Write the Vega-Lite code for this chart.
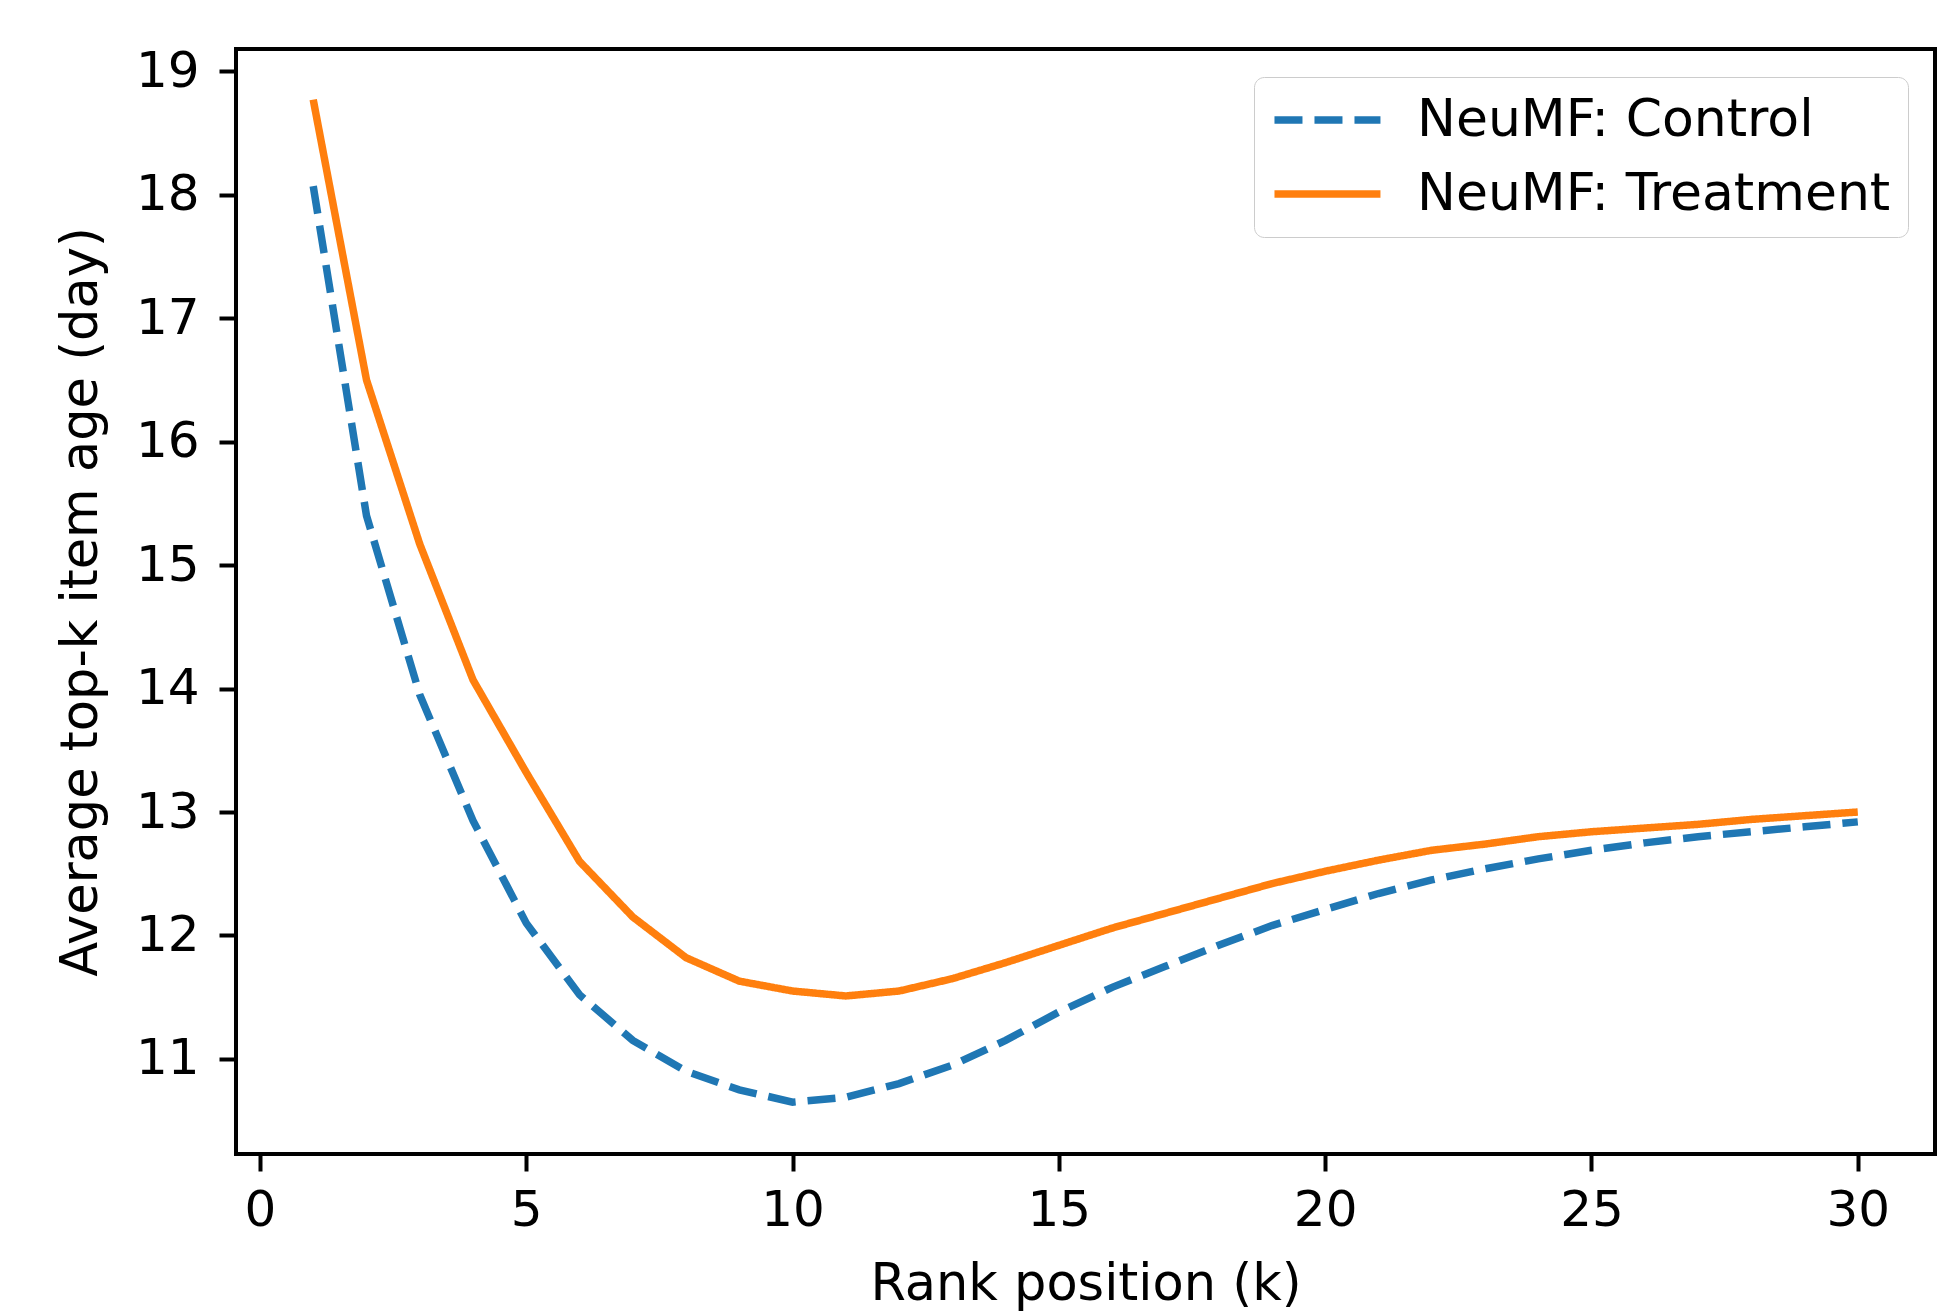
{
  "$schema": "https://vega.github.io/schema/vega-lite/v6.json",
  "autosize": {"type": "none"},
  "padding": {"left": 236, "top": 49, "right": 4, "bottom": 159},
  "width": 1699,
  "height": 1105,
  "background": "white",
  "config": {
    "font": "DejaVu Sans",
    "view": {"stroke": "black", "strokeWidth": 4},
    "axis": {
      "domain": false,
      "grid": false,
      "tickColor": "black",
      "tickWidth": 4,
      "tickSize": 17,
      "labelFont": "DejaVu Sans",
      "labelFontSize": 50,
      "labelColor": "black",
      "titleFont": "DejaVu Sans",
      "titleFontSize": 51,
      "titleFontWeight": "normal",
      "titleColor": "black"
    },
    "legend": {
      "labelFont": "DejaVu Sans",
      "labelFontSize": 52,
      "labelColor": "black",
      "labelLimit": 0
    }
  },
  "data": {
    "values": [
      {"k": 1, "series": "NeuMF: Control", "v": 18.07},
      {"k": 2, "series": "NeuMF: Control", "v": 15.4},
      {"k": 3, "series": "NeuMF: Control", "v": 13.95},
      {"k": 4, "series": "NeuMF: Control", "v": 12.93},
      {"k": 5, "series": "NeuMF: Control", "v": 12.1},
      {"k": 6, "series": "NeuMF: Control", "v": 11.52},
      {"k": 7, "series": "NeuMF: Control", "v": 11.15},
      {"k": 8, "series": "NeuMF: Control", "v": 10.9},
      {"k": 9, "series": "NeuMF: Control", "v": 10.75},
      {"k": 10, "series": "NeuMF: Control", "v": 10.65},
      {"k": 11, "series": "NeuMF: Control", "v": 10.69},
      {"k": 12, "series": "NeuMF: Control", "v": 10.8},
      {"k": 13, "series": "NeuMF: Control", "v": 10.95},
      {"k": 14, "series": "NeuMF: Control", "v": 11.15},
      {"k": 15, "series": "NeuMF: Control", "v": 11.38},
      {"k": 16, "series": "NeuMF: Control", "v": 11.58},
      {"k": 17, "series": "NeuMF: Control", "v": 11.75},
      {"k": 18, "series": "NeuMF: Control", "v": 11.92},
      {"k": 19, "series": "NeuMF: Control", "v": 12.08},
      {"k": 20, "series": "NeuMF: Control", "v": 12.21},
      {"k": 21, "series": "NeuMF: Control", "v": 12.34},
      {"k": 22, "series": "NeuMF: Control", "v": 12.45},
      {"k": 23, "series": "NeuMF: Control", "v": 12.54},
      {"k": 24, "series": "NeuMF: Control", "v": 12.62},
      {"k": 25, "series": "NeuMF: Control", "v": 12.69},
      {"k": 26, "series": "NeuMF: Control", "v": 12.75},
      {"k": 27, "series": "NeuMF: Control", "v": 12.8},
      {"k": 28, "series": "NeuMF: Control", "v": 12.84},
      {"k": 29, "series": "NeuMF: Control", "v": 12.88},
      {"k": 30, "series": "NeuMF: Control", "v": 12.92},
      {"k": 1, "series": "NeuMF: Treatment", "v": 18.77},
      {"k": 2, "series": "NeuMF: Treatment", "v": 16.5},
      {"k": 3, "series": "NeuMF: Treatment", "v": 15.17},
      {"k": 4, "series": "NeuMF: Treatment", "v": 14.07},
      {"k": 5, "series": "NeuMF: Treatment", "v": 13.32},
      {"k": 6, "series": "NeuMF: Treatment", "v": 12.6},
      {"k": 7, "series": "NeuMF: Treatment", "v": 12.15},
      {"k": 8, "series": "NeuMF: Treatment", "v": 11.82},
      {"k": 9, "series": "NeuMF: Treatment", "v": 11.63},
      {"k": 10, "series": "NeuMF: Treatment", "v": 11.55},
      {"k": 11, "series": "NeuMF: Treatment", "v": 11.51},
      {"k": 12, "series": "NeuMF: Treatment", "v": 11.55},
      {"k": 13, "series": "NeuMF: Treatment", "v": 11.65},
      {"k": 14, "series": "NeuMF: Treatment", "v": 11.78},
      {"k": 15, "series": "NeuMF: Treatment", "v": 11.92},
      {"k": 16, "series": "NeuMF: Treatment", "v": 12.06},
      {"k": 17, "series": "NeuMF: Treatment", "v": 12.18},
      {"k": 18, "series": "NeuMF: Treatment", "v": 12.3},
      {"k": 19, "series": "NeuMF: Treatment", "v": 12.42},
      {"k": 20, "series": "NeuMF: Treatment", "v": 12.52},
      {"k": 21, "series": "NeuMF: Treatment", "v": 12.61},
      {"k": 22, "series": "NeuMF: Treatment", "v": 12.69},
      {"k": 23, "series": "NeuMF: Treatment", "v": 12.74},
      {"k": 24, "series": "NeuMF: Treatment", "v": 12.8},
      {"k": 25, "series": "NeuMF: Treatment", "v": 12.84},
      {"k": 26, "series": "NeuMF: Treatment", "v": 12.87},
      {"k": 27, "series": "NeuMF: Treatment", "v": 12.9},
      {"k": 28, "series": "NeuMF: Treatment", "v": 12.94},
      {"k": 29, "series": "NeuMF: Treatment", "v": 12.97},
      {"k": 30, "series": "NeuMF: Treatment", "v": 13.0}
    ]
  },
  "mark": {"type": "line", "strokeWidth": 7.5, "clip": true},
  "encoding": {
    "x": {
      "field": "k",
      "type": "quantitative",
      "scale": {"domain": [-0.45, 31.45], "nice": false, "zero": false},
      "axis": {
        "values": [0, 5, 10, 15, 20, 25, 30],
        "format": "d",
        "labelPadding": 14,
        "title": "Rank position (k)",
        "titlePadding": 24
      }
    },
    "y": {
      "field": "v",
      "type": "quantitative",
      "scale": {"domain": [10.23, 19.18], "nice": false, "zero": false},
      "axis": {
        "values": [11, 12, 13, 14, 15, 16, 17, 18, 19],
        "format": "d",
        "labelPadding": 20,
        "title": "Average top-k item age (day)",
        "titlePadding": 28
      }
    },
    "color": {
      "field": "series",
      "type": "nominal",
      "scale": {"domain": ["NeuMF: Control", "NeuMF: Treatment"], "range": ["#1f77b4", "#ff7f0e"]},
      "legend": {
        "title": null,
        "orient": "none",
        "legendX": 1018,
        "legendY": 28,
        "symbolType": "M-1.7,0L6.3,0",
        "symbolSize": 702,
        "symbolStrokeWidth": 7.5,
        "labelOffset": 94,
        "rowPadding": 22,
        "padding": 17,
        "fillColor": "rgba(255,255,255,0.8)",
        "strokeColor": "#cccccc",
        "cornerRadius": 10
      }
    },
    "strokeDash": {
      "field": "series",
      "type": "nominal",
      "scale": {"domain": ["NeuMF: Control", "NeuMF: Treatment"], "range": [[28, 12], [1, 0]]},
      "legend": {
        "title": null,
        "orient": "none",
        "legendX": 1018,
        "legendY": 28,
        "symbolType": "M-1.7,0L6.3,0",
        "symbolSize": 702,
        "symbolStrokeWidth": 7.5,
        "labelOffset": 94,
        "rowPadding": 22,
        "padding": 17,
        "fillColor": "rgba(255,255,255,0.8)",
        "strokeColor": "#cccccc",
        "cornerRadius": 10
      }
    }
  }
}
